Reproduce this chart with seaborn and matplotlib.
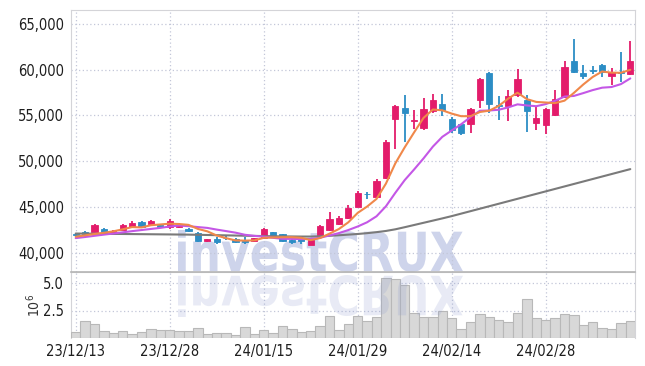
import numpy as np
import pandas as pd
import matplotlib
matplotlib.use("Agg")
import matplotlib.pyplot as plt
import seaborn as sns
from matplotlib.textpath import TextPath
from matplotlib.patches import PathPatch
from matplotlib.font_manager import FontProperties
from matplotlib.transforms import Affine2D

# daily OHLC (KRW), 23/12/13 .. 24/03/13
opens = [42000, 42250, 42320, 42610, 42070, 42500, 42860, 43370, 43150, 43000,
         42860, 42860, 42610, 42210, 41230, 41520, 41620, 41520, 41410, 41230,
         41600, 42250, 42030, 41380, 41520, 40840, 41770, 42500, 43150, 43770,
         45030, 46450, 46120, 48190, 54600, 55840, 54350, 53620, 55470, 56200,
         54570, 54020, 54100, 56710, 59640, 56150, 55980, 57170, 56710, 54160,
         53990, 55000, 57000, 60900, 59600, 60000, 60510, 59270, 59680, 59530]
highs = [42150, 42330, 43100, 42720, 42450, 43150, 43450, 43420, 43600, 43100,
         43650, 43200, 42700, 42300, 41550, 41750, 41800, 41620, 41700, 41650,
         42750, 42300, 42100, 41520, 41800, 41400, 43050, 44400, 44000, 45200,
         46750, 46680, 48100, 52300, 56100, 57170, 55620, 56880, 57360, 57360,
         54800, 54100, 55840, 59100, 59700, 57070, 57720, 60080, 57170, 56050,
         55840, 57790, 60980, 63340, 60550, 60440, 60650, 60190, 61880, 63150]
lows = [41880, 41900, 42280, 42250, 42000, 42450, 42750, 42800, 43050, 42750,
        42600, 42650, 42300, 41150, 41150, 40950, 41380, 41050, 41000, 41200,
        41480, 41700, 41200, 40950, 40950, 40800, 41700, 42400, 43000, 43650,
        44950, 45870, 46000, 48100, 51300, 52100, 53550, 53450, 55300, 54900,
        53100, 52900, 53080, 55840, 55250, 54530, 54380, 57050, 53190, 53400,
        52950, 54900, 56900, 59600, 58990, 59460, 59170, 58260, 58620, 59400]
closes = [41950, 42000, 43040, 42320, 42390, 43040, 43230, 42860, 43510, 42800,
          43480, 43040, 42390, 41300, 41490, 41200, 41580, 41160, 41200, 41600,
          42610, 41770, 41300, 41220, 41270, 41340, 42930, 43660, 43770, 44920,
          46490, 46380, 47830, 52100, 55980, 55250, 54530, 55730, 56700, 55540,
          53450, 53120, 55730, 58990, 56270, 56050, 57070, 58990, 55470, 54750,
          55730, 56740, 60330, 59710, 59350, 59820, 59710, 59710, 59640, 60980]

# volume, millions of shares
volume = [0.58, 1.55, 1.31, 0.64, 0.49, 0.64, 0.40, 0.55, 0.82, 0.73,
          0.73, 0.64, 0.64, 0.91, 0.40, 0.49, 0.49, 0.30, 1.00, 0.40,
          0.73, 0.49, 1.09, 0.82, 0.58, 0.64, 1.12, 2.04, 0.74, 1.23,
          2.04, 1.51, 1.94, 5.46, 5.37, 4.85, 2.25, 1.94, 1.94, 2.47,
          1.85, 0.83, 1.42, 2.16, 1.94, 1.60, 1.42, 2.31, 3.58, 1.85,
          1.60, 1.85, 2.16, 2.07, 1.14, 1.42, 0.93, 0.83, 1.33, 1.51]

# moving averages
ma5 = [41750, 41900, 42050, 42180, 42340, 42558, 42804, 42768, 43006, 43088,
       43176, 43138, 43044, 42602, 42340, 41884, 41592, 41346, 41326, 41348,
       41630, 41668, 41696, 41700, 41634, 41380, 41612, 42084, 42594, 43324,
       44354, 45044, 45878, 47544, 49756, 51508, 53138, 54718, 55638, 55550,
       55190, 54908, 54908, 55366, 55512, 56032, 56822, 57474, 56770, 56466,
       56402, 56336, 56604, 57452, 58372, 59190, 59784, 59660, 59646, 59972]
ma10 = [41600, 41720, 41850, 41980, 42100, 42230, 42360, 42480, 42600, 42714,
        42867, 42971, 42906, 42804, 42714, 42530, 42365, 42195, 41964, 41844,
        41757, 41630, 41521, 41513, 41491, 41505, 41640, 41890, 42147, 42479,
        42867, 43328, 43981, 45069, 46540, 47931, 49091, 50298, 51591, 52653,
        53349, 54023, 54813, 55502, 55531, 55611, 55865, 56201, 56078, 55999,
        56227, 56589, 57049, 57121, 57429, 57756, 58020, 58092, 58409, 59032]
ma60 = [42100, 42090, 42080, 42070, 42060, 42050, 42040, 42030, 42020, 42010,
        42000, 41990, 41980, 41960, 41940, 41920, 41900, 41880, 41860, 41840,
        41820, 41800, 41790, 41780, 41770, 41770, 41800, 41850, 41910, 41980,
        42050, 42140, 42250, 42380, 42560, 42790, 43030, 43270, 43510, 43750,
        44000, 44270, 44540, 44810, 45080, 45350, 45620, 45890, 46160, 46430,
        46700, 46970, 47240, 47510, 47780, 48050, 48320, 48590, 48860, 49130]

tick_pos = [0, 10, 20, 30, 40, 50]
tick_labels = ["23/12/13", "23/12/28", "24/01/15", "24/01/29", "24/02/14", "24/02/28"]
price_ticks = [40000, 45000, 50000, 55000, 60000, 65000]

df = pd.DataFrame({"o": opens, "h": highs, "l": lows, "c": closes, "v": volume,
                   "ma5": ma5, "ma10": ma10, "ma60": ma60})
df["i"] = np.arange(len(df))

sns.set_theme(style="white")
plt.rcParams["font.family"] = ["DejaVu Sans"]
plt.rcParams["font.stretch"] = "condensed"

RED = "#e31c6b"
BLUE = "#2c8dc5"
GRIDC = "#c3c7d8"
LABC = "#1e1e1e"

fig = plt.figure(figsize=(6.45, 3.66), dpi=100)
fig.patch.set_facecolor("white")
ax = fig.add_axes([71 / 645, 1 - 272 / 366, 564 / 645, 262 / 366])
axv = fig.add_axes([71 / 645, 1 - 338 / 366, 564 / 645, 66 / 366], sharex=ax)
for a in (ax, axv):
    a.patch.set_alpha(0)

up = df["c"] >= df["o"]
colors = np.where(up, RED, BLUE)
bottom = np.minimum(df["o"], df["c"])
height = np.maximum((df["c"] - df["o"]).abs(), 70)

ax.vlines(df["i"], df["l"], df["h"], colors=colors, linewidth=1.3, zorder=3)
ax.bar(df["i"], height, bottom=bottom, width=0.66, color=colors,
       edgecolor=colors, linewidth=0.6, zorder=4)

sns.lineplot(data=df, x="i", y="ma60", ax=ax, color="#7a7a7a", linewidth=1.5, zorder=5)
sns.lineplot(data=df, x="i", y="ma10", ax=ax, color="#c457e6", linewidth=1.5, zorder=6)
sns.lineplot(data=df, x="i", y="ma5", ax=ax, color="#f0884a", linewidth=1.5, zorder=7)

ax.set_xlim(-0.5, len(df) - 0.5)
ax.set_ylim(37900, 66500)
ax.set_yticks(price_ticks)
ax.set_yticklabels([f"{v:,}" for v in price_ticks])
ax.set_xticks(tick_pos)
ax.tick_params(axis="x", labelbottom=False, length=0)
ax.tick_params(axis="y", length=0, pad=5, labelsize=10.5, labelcolor=LABC)
ax.grid(True, color=GRIDC, linestyle=(0, (1, 2)), linewidth=0.9)
ax.set_xlabel("")
ax.set_ylabel("")

sns.barplot(data=df, x="i", y="v", ax=axv, native_scale=True, width=1.0,
            color="#d8d8d8", edgecolor="#b8b8b8", linewidth=0.8, zorder=3)
axv.set_ylim(0, 6.0)
axv.set_yticks([2.5, 5.0])
axv.set_yticklabels(["2.5", "5.0"])
axv.set_xticks(tick_pos)
axv.set_xticklabels(tick_labels)
axv.tick_params(axis="both", length=0, labelsize=10.5, labelcolor=LABC)
axv.tick_params(axis="x", pad=4)
axv.tick_params(axis="y", pad=5)
axv.grid(True, color=GRIDC, linestyle=(0, (1, 2)), linewidth=0.9)
axv.set_xlabel("")
axv.set_ylabel("$10^6$", fontsize=10, color="#333333", labelpad=0)
axv.set_xlim(-0.5, len(df) - 0.5)

for a in (ax, axv):
    for s in a.spines.values():
        s.set_color("#d4d4d8")
        s.set_linewidth(0.8)
axv.spines["top"].set_color("#b5b5b5")
axv.spines["top"].set_linewidth(1.2)
axv.spines["bottom"].set_visible(False)

# watermark and its reflection
fp = FontProperties(family="DejaVu Sans", weight="bold", stretch="condensed")
tp = TextPath((0, 0), "investCRUX", size=50, prop=fp)
ext = tp.get_extents()
sx = 285 / ext.width
sy = 42 / ext.height
x0 = 178
base = 366 - 272
main_tr = Affine2D().translate(-ext.x0, -ext.y0).scale(sx, sy).translate(x0, base)
fig.add_artist(PathPatch(tp, transform=main_tr, facecolor="#8c9ad0", edgecolor="none",
                         alpha=0.42, zorder=-1))
refl_tr = Affine2D().translate(-ext.x0, -ext.y0).scale(sx, -sy).translate(x0, base - 3)
fig.add_artist(PathPatch(tp, transform=refl_tr, facecolor="#8c9ad0", edgecolor="none",
                         alpha=0.2, zorder=10))

plt.savefig("out.png", dpi=100)
plt.close()
